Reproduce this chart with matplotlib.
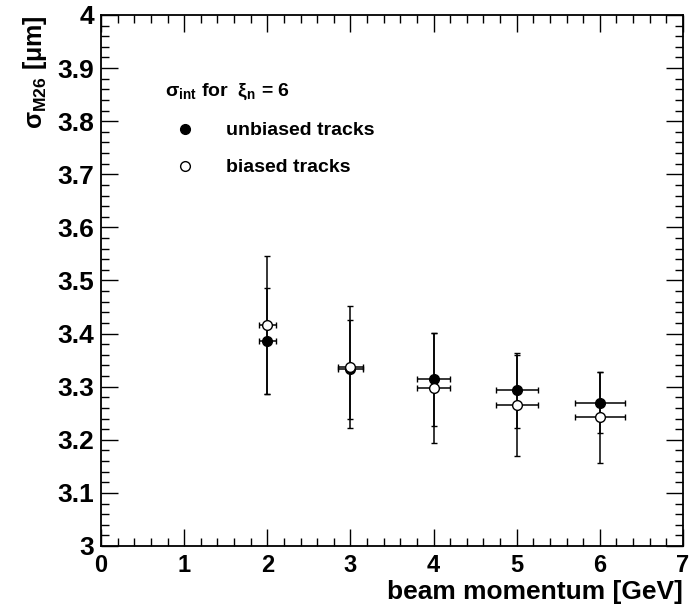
import matplotlib

matplotlib.use("Agg")
import matplotlib.pyplot as plt
from matplotlib.lines import Line2D
from matplotlib.ticker import FuncFormatter, MultipleLocator

# beam momentum points and their (5 %) spread
momentum = [2, 3, 4, 5, 6]
momentum_err = [0.10, 0.15, 0.20, 0.25, 0.30]

# intrinsic resolution, unbiased tracks
unbiased = [3.386, 3.333, 3.314, 3.293, 3.270]
unbiased_err = [0.100, 0.093, 0.088, 0.070, 0.058]

# intrinsic resolution, biased tracks
biased = [3.416, 3.337, 3.298, 3.265, 3.242]
biased_err = [0.130, 0.115, 0.104, 0.095, 0.085]

series_labels = ["unbiased tracks", "biased tracks"]
legend_title = r"$\mathrm{\sigma}_{\mathbf{int}}$ for  $\mathrm{\xi}_{\mathbf{n}}$ = 6"
x_label = "beam momentum [GeV]"
y_label = r"$\mathrm{\sigma}_{\mathbf{M26}}$ [$\mathrm{\mu}$m]"

plt.rcParams["font.family"] = ["Liberation Sans", "DejaVu Sans"]
plt.rcParams["font.weight"] = "bold"
plt.rcParams["mathtext.fontset"] = "custom"
plt.rcParams["mathtext.rm"] = "Liberation Sans"
plt.rcParams["mathtext.bf"] = "Liberation Sans:bold"
plt.rcParams["mathtext.it"] = "Liberation Sans:italic"


def draw_series(ax, y, yerr, filled):
    face = "black" if filled else "white"
    ax.errorbar(
        momentum,
        y,
        xerr=momentum_err,
        yerr=yerr,
        fmt="o",
        color="black",
        ecolor="black",
        markerfacecolor=face,
        markeredgecolor="black",
        markersize=7,
        markeredgewidth=1.0,
        elinewidth=1.1,
        capsize=2.5,
        capthick=1.1,
        zorder=3,
    )


def style_axes(ax):
    ax.set_xlim(0, 7)
    ax.set_ylim(3, 4)
    ax.xaxis.set_major_locator(MultipleLocator(1))
    ax.xaxis.set_minor_locator(MultipleLocator(0.2))
    ax.yaxis.set_major_locator(MultipleLocator(0.1))
    ax.yaxis.set_minor_locator(MultipleLocator(0.02))
    ax.yaxis.set_major_formatter(FuncFormatter(lambda v, _: f"{v:g}"))
    ax.tick_params(which="both", direction="in", top=True, right=True, width=1.0)
    ax.tick_params(which="major", length=12)
    ax.tick_params(which="minor", length=6)
    ax.tick_params(axis="x", which="major", labelsize=17, pad=6)
    ax.tick_params(axis="y", which="major", labelsize=19, pad=5)
    for spine in ax.spines.values():
        spine.set_linewidth(1.3)
    ax.set_xlabel(x_label, fontsize=19, fontweight="bold", loc="right", labelpad=2)
    ax.set_ylabel(y_label, fontsize=18, fontweight="bold", loc="top", labelpad=6)


def main() -> None:
    fig = plt.figure(figsize=(6.89, 6.07), dpi=100)
    ax = fig.add_axes([0.1466, 0.1005, 0.8447, 0.8748])

    draw_series(ax, unbiased, unbiased_err, filled=True)
    draw_series(ax, biased, biased_err, filled=False)
    style_axes(ax)

    handles = [
        Line2D([], [], ls="none", marker="o", markersize=7, color="black",
               markerfacecolor="black"),
        Line2D([], [], ls="none", marker="o", markersize=7, color="black",
               markerfacecolor="white"),
    ]
    leg = ax.legend(
        handles,
        series_labels,
        title=legend_title,
        loc="upper left",
        bbox_to_anchor=(165 / 689, 1 - 82 / 607),
        bbox_transform=fig.transFigure,
        frameon=False,
        fontsize=14,
        title_fontsize=14,
        alignment="left",
        handlelength=2.06,
        handletextpad=1.08,
        labelspacing=1.0,
        borderpad=0,
        borderaxespad=0,
    )
    for txt in leg.get_texts():
        txt.set_fontweight("bold")
    leg.get_title().set_fontweight("bold")

    fig.savefig("out.png", dpi=100)
    plt.close(fig)


if __name__ == "__main__":
    main()
